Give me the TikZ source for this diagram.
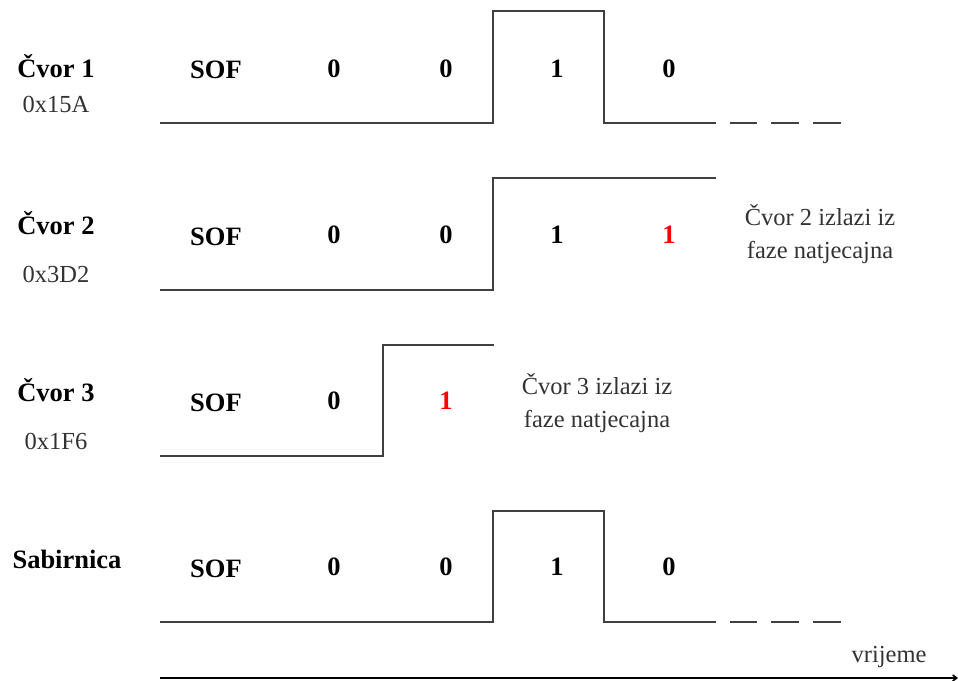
\documentclass[tikz,border=0pt]{standalone}
\usepackage{fontspec}
\setmainfont{Liberation Serif}
\usetikzlibrary{arrows.meta}
\definecolor{wave}{HTML}{404040}
\definecolor{lbl}{HTML}{333333}
\tikzset{
  wavel/.style={draw=wave, line width=1.4pt},
  dashl/.style={draw=wave, line width=1.4pt},
  bitt/.style={font=\fontsize{26.5}{30}\selectfont\bfseries, text=black, inner sep=0pt, anchor=base},
  redbit/.style={bitt, text=red},
  namet/.style={font=\fontsize{26.5}{30}\selectfont\bfseries, text=black, inner sep=0pt, anchor=base},
  idt/.style={font=\fontsize{24.5}{28}\selectfont, text=lbl, inner sep=0pt, anchor=base},
}
\begin{document}
\begin{tikzpicture}[x=1pt,y=-1pt]
\useasboundingbox (0,0) rectangle (958,680);
% Row 1
\draw[wavel] (160,123) -- (493,123) -- (493,11) -- (604,11) -- (604,123) -- (716,123);
\draw[dashl] (730,123) -- (757,123) (771,123) -- (799,123) (813,123) -- (841,123);
\node[namet] (n1) at (56,77) {Čvor 1};
\node[idt] (i1) at (56,112) {0x15A};
\node[bitt] (s1) at (216,78) {SOF};
\node[bitt] (b11) at (334,77) {0};
\node[bitt] (b12) at (446,77) {0};
\node[bitt] (b13) at (557,77) {1};
\node[bitt] (b14) at (669,77) {0};
% Row 2
\draw[wavel] (160,290) -- (493,290) -- (493,178) -- (716,178);
\node[namet] (n2) at (56,234) {Čvor 2};
\node[idt] (i2) at (56,282) {0x3D2};
\node[bitt] (s2) at (216,245) {SOF};
\node[bitt] (b21) at (334,243) {0};
\node[bitt] (b22) at (446,243) {0};
\node[bitt] (b23) at (557,243) {1};
\node[redbit] (b24) at (669,243) {1};
\node[idt] (t2a) at (820,225) {Čvor 2 izlazi iz};
\node[idt] (t2b) at (820,258) {faze natjecajna};
% Row 3
\draw[wavel] (160,456) -- (383,456) -- (383,345) -- (494,345);
\node[namet] (n3) at (56,401) {Čvor 3};
\node[idt] (i3) at (56,449) {0x1F6};
\node[bitt] (s3) at (216,411) {SOF};
\node[bitt] (b31) at (334,409) {0};
\node[redbit] (b32) at (446,409) {1};
\node[idt] (t3a) at (597,394) {Čvor 3 izlazi iz};
\node[idt] (t3b) at (597,427) {faze natjecajna};
% Row 4
\draw[wavel] (160,622) -- (493,622) -- (493,511) -- (604,511) -- (604,622) -- (716,622);
\draw[dashl] (730,622) -- (757,622) (771,622) -- (799,622) (813,622) -- (841,622);
\node[namet] (n4) at (67,568) {Sabirnica};
\node[bitt] (s4) at (216,577) {SOF};
\node[bitt] (b41) at (334,575) {0};
\node[bitt] (b42) at (446,575) {0};
\node[bitt] (b43) at (557,575) {1};
\node[bitt] (b44) at (669,575) {0};
% time axis
\coordinate (a0) at (160,678);
\coordinate (a1) at (958,678);
\draw[line width=1.6pt, -{Straight Barb[length=4pt,width=6pt]}] (a0) -- (a1);
\node[idt] (vr) at (889,662) {vrijeme};
\end{tikzpicture}
\end{document}
